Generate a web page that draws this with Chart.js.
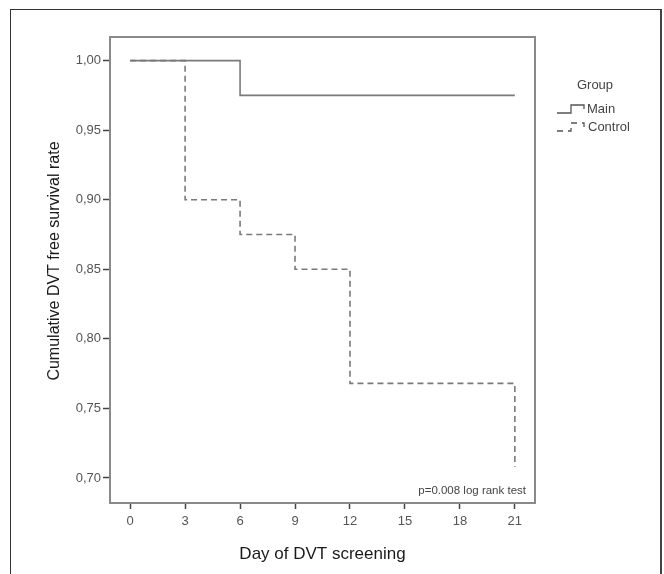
<!DOCTYPE html>
<html>
<head>
<meta charset="utf-8">
<script src="https://cdn.jsdelivr.net/npm/chart.js@4.4.1/dist/chart.umd.min.js"></script>
<style>
  html, body { margin: 0; padding: 0; background: #fff; overflow: hidden; }
  #frame { position: absolute; left: 10px; top: 9px; width: 649px; height: 600px; border: 1px solid #333; border-right: 2px solid #444; }
  #wrap { position: absolute; left: 0; top: 0; width: 664px; height: 574px; }
</style>
</head>
<body>
<div id="frame"></div>
<div id="wrap"><canvas id="km" width="664" height="574"></canvas></div>
<script>
// Kaplan-Meier steps (day, cumulative DVT free survival)
const mainDays = [0, 6, 21];
const mainSurv = [1.0, 0.975, 0.975];
const controlDays = [0, 3, 6, 9, 12, 21];
const controlSurv = [1.0, 0.9, 0.875, 0.85, 0.768, 0.708];

const xTicks = [0, 3, 6, 9, 12, 15, 18, 21];
const yTicks = [0.70, 0.75, 0.80, 0.85, 0.90, 0.95, 1.00];

const lineColor = '#7a7a7a';
const font = '"Liberation Sans", Arial, sans-serif';

function toPoints(xs, ys) {
    return xs.map((x, i) => ({ x: x, y: ys[i] }));
}

// box around plot, y title, legend and p-value text
const extras = {
    id: 'extras',
    beforeDatasetsDraw(chart) {
        const { ctx, chartArea: a } = chart;
        ctx.save();
        ctx.strokeStyle = '#8a8a8a';
        ctx.lineWidth = 2;
        ctx.strokeRect(a.left, a.top, a.right - a.left, a.bottom - a.top);
        ctx.restore();
    },
    afterDraw(chart) {
        const { ctx, chartArea: a } = chart;
        ctx.save();
        ctx.fillStyle = '#444';
        ctx.font = '11.5px ' + font;
        ctx.textAlign = 'right';
        ctx.textBaseline = 'middle';
        ctx.fillText('p=0.008 log rank test', a.right - 9, a.bottom - 12);

        // y axis title
        ctx.save();
        ctx.translate(55, 261);
        ctx.rotate(-Math.PI / 2);
        ctx.textAlign = 'center';
        ctx.fillStyle = '#1a1a1a';
        ctx.font = '16px ' + font;
        ctx.fillText('Cumulative DVT free survival rate', 0, 0);
        ctx.restore();

        // legend
        ctx.font = '13px ' + font;
        ctx.textAlign = 'center';
        ctx.fillText('Group', 595, 85);
        ctx.textAlign = 'left';
        ctx.fillText('Main', 587, 109);
        ctx.fillText('Control', 588, 127);

        ctx.strokeStyle = '#555';
        ctx.lineWidth = 1.3;
        const icon = (y, dash) => {
            ctx.setLineDash(dash);
            ctx.beginPath();
            ctx.moveTo(557, y + 4);
            ctx.lineTo(571, y + 4);
            ctx.lineTo(571, y - 4);
            ctx.lineTo(584, y - 4);
            ctx.lineTo(584, y);
            ctx.stroke();
        };
        icon(109, []);
        icon(127, [6, 5]);
        ctx.restore();
    }
};

new Chart(document.getElementById('km'), {
    type: 'line',
    data: {
        datasets: [
            {
                label: 'Main',
                data: toPoints(mainDays, mainSurv),
                borderColor: lineColor,
                borderWidth: 1.6,
                stepped: true,
                pointRadius: 0,
                fill: false
            },
            {
                label: 'Control',
                data: toPoints(controlDays, controlSurv),
                borderColor: lineColor,
                borderWidth: 1.6,
                borderDash: [6, 4],
                stepped: true,
                pointRadius: 0,
                fill: false
            }
        ]
    },
    plugins: [extras],
    options: {
        responsive: false,
        animation: false,
        devicePixelRatio: 1,
        layout: { padding: { left: 30, top: 37, right: 129, bottom: 4 } },
        plugins: { legend: { display: false }, tooltip: { enabled: false } },
        scales: {
            x: {
                type: 'linear',
                min: -1.1,
                max: 22.1,
                afterBuildTicks: s => { s.ticks = xTicks.map(v => ({ value: v })); },
                afterFit: s => { s.height = 67; },
                border: { display: true, color: '#8a8a8a', width: 2 },
                grid: { drawOnChartArea: false, tickLength: 6, color: '#444', tickWidth: 1.5 },
                ticks: { color: '#555', font: { family: font, size: 13 }, padding: 5 },
                title: {
                    display: true,
                    text: 'Day of DVT screening',
                    color: '#1a1a1a',
                    font: { family: font, size: 17 },
                    padding: { top: 6, bottom: 5 }
                }
            },
            y: {
                min: 0.682,
                max: 1.017,
                afterBuildTicks: s => { s.ticks = yTicks.map(v => ({ value: v })); },
                afterFit: s => { s.width = 80; },
                border: { display: true, color: '#8a8a8a', width: 2 },
                grid: { drawOnChartArea: false, tickLength: 7, color: '#444', tickWidth: 1.5 },
                ticks: {
                    color: '#555',
                    font: { family: font, size: 13 },
                    padding: 2,
                    callback: v => v.toFixed(2).replace('.', ',')
                }
            }
        }
    }
});
</script>
</body>
</html>
